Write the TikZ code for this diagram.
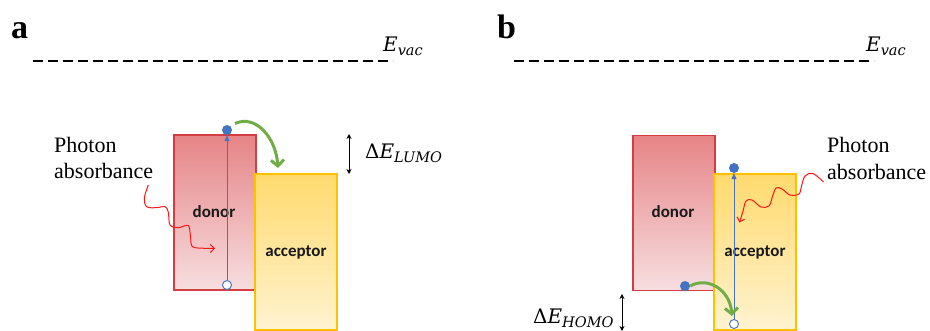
\documentclass[tikz,border=0pt]{standalone}
\usepackage{fontspec}
\setmainfont{Liberation Serif}
\newfontfamily\tnr{Liberation Serif}
\newfontfamily\dvs{DejaVu Serif}
\newfontfamily\calib{Carlito}
\usetikzlibrary{arrows.meta,shapes.geometric}
\definecolor{donfill1}{RGB}{230,132,134}
\definecolor{donfill2}{RGB}{247,222,224}
\definecolor{donline}{RGB}{212,62,66}
\definecolor{accfill1}{RGB}{255,218,110}
\definecolor{accfill2}{RGB}{255,243,208}
\definecolor{accline}{RGB}{255,192,0}
\definecolor{eblue}{RGB}{68,114,196}
\definecolor{agreen}{RGB}{112,173,71}
\definecolor{wred}{RGB}{255,20,20}
\newcommand{\enlbl}[3]{{\dvs\fontsize{20}{24}\selectfont #1\itshape #2\raisebox{-4.5pt}{\fontsize{14.5}{17}\selectfont #3}}}
\tikzset{
  dbox/.style={draw=donline, line width=1.2pt, top color=donfill1, bottom color=donfill2, minimum width=82pt, minimum height=155pt, inner sep=0pt},
  abox/.style={draw=accline, line width=1.2pt, top color=accfill1, bottom color=accfill2, minimum width=82pt, minimum height=156pt, inner sep=0pt},
  boxtxt/.style={font=\calib\bfseries\fontsize{17}{20}\selectfont, text=black!90, inner sep=0pt},
  elec/.style={circle, fill=eblue, minimum size=10pt, inner sep=0pt},
  hole/.style={circle, draw=eblue, fill=white, line width=0.9pt, minimum size=9pt, inner sep=0pt},
  vline/.style={dashed, dash pattern=on 10pt off 5pt, line width=1.5pt},
  mathlbl/.style={inner sep=0pt, anchor=base west},
  phototxt/.style={font=\tnr\fontsize{22}{26}\selectfont, inner sep=0pt, anchor=base west},
  panel/.style={font=\tnr\bfseries\fontsize{34}{38}\selectfont, inner sep=0pt, anchor=base west},
  excite/.style={draw=eblue, line width=1pt, -{Triangle[length=6pt,width=5pt]}},
  transfer/.style={draw=agreen, line width=3pt, -{Straight Barb[length=6pt,width=13pt]}},
  wave/.style={draw=wred, line width=1pt, -{Straight Barb[length=4pt,width=8pt]}},
  gap/.style={black, line width=1pt, {Stealth[length=5pt,width=5pt]}-{Stealth[length=5pt,width=5pt]}}
}
\begin{document}
\begin{tikzpicture}[x=1pt, y=-1pt]
\useasboundingbox (0,0) rectangle (930,330);
\fill[white] (0,0) rectangle (930,330);

% ---------- panel a ----------
\node[panel] (la) at (11,38) {a};
\coordinate (va1) at (33,61);
\coordinate (va2) at (393,61);
\draw[vline] (va1) -- (va2);
\node[mathlbl] (eva) at (383,51) {\enlbl{}{E}{vac}};

\node[dbox] (dona) at (215,212.5) {};
\node[abox] (acca) at (296,252) {};
\node[boxtxt] (dta) at (214,212) {donor};
\node[boxtxt] (ata) at (296,252) {acceptor};

\node[hole] (ha) at (227,285) {};
\node[elec] (ea) at (227,130) {};
\draw[excite] (ha.north) -- (ea.south);

\coordinate (ga1) at (235,123.5);
\coordinate (ga2) at (278,168);
\draw[transfer] (ga1) .. controls (256,114) and (276,138) .. (ga2);

\coordinate (da1) at (349,134);
\coordinate (da2) at (349,174);
\draw[gap] (da1) -- (da2);
\node[mathlbl] (dla) at (365,158) {\enlbl{Δ}{E}{LUMO}};

\node[phototxt] (pa1) at (54,152) {Photon};
\node[phototxt] (pa2) at (54,178) {absorbance};
\draw[wave] plot[smooth, tension=0.55] coordinates {(148.3,185) (144.3,198) (146.7,206.7) (156,207.7) (165,206.7) (168.3,212) (170,225) (178.3,227.7) (188.3,225.5) (190.5,236.7) (192.5,246.7) (205,248.3) (215,248.3)};

% ---------- panel b ----------
\node[panel] (lb) at (497,38) {b};
\coordinate (vb1) at (514,61);
\coordinate (vb2) at (874,61);
\draw[vline] (vb1) -- (vb2);
\node[mathlbl] (evb) at (866,51) {\enlbl{}{E}{vac}};

\node[dbox] (donb) at (674,213) {};
\node[abox] (accb) at (755,252) {};
\node[boxtxt] (dtb) at (673,212) {donor};
\node[boxtxt] (atb) at (755,252) {acceptor};

\node[hole] (hb) at (734,324) {};
\node[elec] (eb) at (734,168) {};
\draw[excite] (hb.north) -- (eb.south);
\node[elec] (eb2) at (685,286) {};

\coordinate (gb2) at (732,316);
\draw[transfer] (eb2.east) .. controls (708,276) and (730,290) .. (gb2);

\coordinate (db1) at (622,294);
\coordinate (db2) at (622,331);
\draw[gap] (db1) -- (db2);
\node[mathlbl] (dlb) at (533,323) {\enlbl{Δ}{E}{HOMO}};

\node[phototxt] (pb1) at (827,152) {Photon};
\node[phototxt] (pb2) at (827,179) {absorbance};
\draw[wave] plot[smooth, tension=0.55] coordinates {(823.5,182) (813,173.5) (805,176) (801.5,186) (799,194) (790,195) (782,189) (776,188) (772,198) (769,206) (761,207) (752,200) (746,201) (743,211) (739.5,222.5)};
\end{tikzpicture}
\end{document}
